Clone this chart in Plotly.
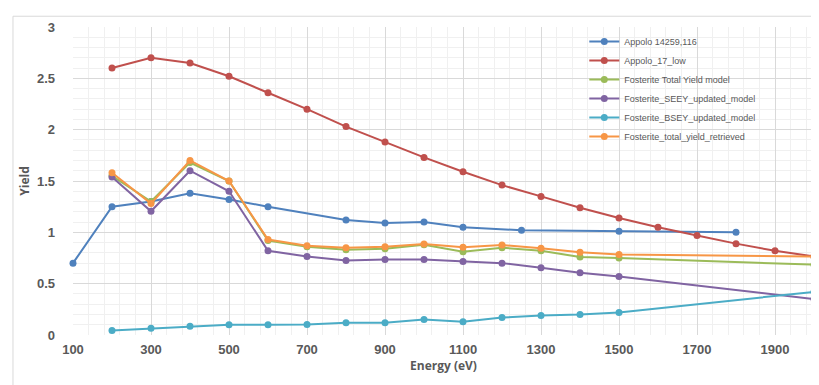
import plotly.graph_objects as go

# ---- data ----
apollo14_x = [100, 200, 300, 400, 500, 600, 800, 900, 1000, 1100, 1250, 1500, 1800]
apollo14_y = [0.70, 1.25, 1.30, 1.38, 1.32, 1.25, 1.12, 1.09, 1.10, 1.05, 1.02, 1.01, 1.00]

apollo17_x = [200, 300, 400, 500, 600, 700, 800, 900, 1000, 1100, 1200, 1300, 1400, 1500, 1600, 1700, 1800, 1900, 2000]
apollo17_y = [2.60, 2.70, 2.65, 2.52, 2.36, 2.20, 2.03, 1.88, 1.73, 1.59, 1.46, 1.35, 1.24, 1.14, 1.05, 0.97, 0.89, 0.82, 0.765]

model_x = [200, 300, 400, 500, 600, 700, 800, 900, 1000, 1100, 1200, 1300, 1400, 1500, 2000]
total_model_y = [1.55, 1.30, 1.68, 1.50, 0.92, 0.86, 0.83, 0.84, 0.88, 0.81, 0.85, 0.82, 0.76, 0.75, 0.685]
seey_y = [1.54, 1.205, 1.60, 1.40, 0.82, 0.765, 0.726, 0.736, 0.736, 0.717, 0.70, 0.656, 0.607, 0.569, 0.35]
bsey_y = [0.045, 0.065, 0.085, 0.10, 0.10, 0.103, 0.12, 0.12, 0.15, 0.13, 0.17, 0.19, 0.20, 0.22, 0.42]
retrieved_y = [1.58, 1.28, 1.70, 1.50, 0.93, 0.87, 0.85, 0.86, 0.887, 0.855, 0.877, 0.845, 0.805, 0.785, 0.765]

names = ["Appolo 14259,116", "Appolo_17_low", "Fosterite Total Yield model",
         "Fosterite_SEEY_updated_model", "Fosterite_BSEY_updated_model",
         "Fosterite_total_yield_retrieved"]
colors = ["#4F81BD", "#C0504D", "#9BBB59", "#8064A2", "#4BACC6", "#F79646"]

series = [
    (apollo14_x, apollo14_y),
    (apollo17_x, apollo17_y),
    (model_x, total_model_y),
    (model_x, seey_y),
    (model_x, bsey_y),
    (model_x, retrieved_y),
]

fig = go.Figure()
for (xs, ys), name, c in zip(series, names, colors):
    fig.add_trace(go.Scatter(
        x=xs, y=ys, name=name, mode="lines+markers",
        line=dict(color=c, width=2),
        marker=dict(color=c, size=7),
        cliponaxis=False,
    ))

grid_major = "#D9D9D9"
grid_minor = "#F0F0F0"
font_c = "#595959"
tick_font = dict(family="Liberation Sans Narrow, Liberation Sans, sans-serif",
                 size=13, color=font_c, weight="bold")

fig.update_layout(
    width=819, height=385,
    margin=dict(l=65, r=13, t=17, b=58),
    paper_bgcolor="white", plot_bgcolor="white",
    font=dict(family="Open Sans, Liberation Sans, sans-serif", color=font_c, size=12),
    showlegend=True,
    legend=dict(
        x=0.69, y=1.0, xanchor="left", yanchor="top",
        font=dict(family="Liberation Sans, sans-serif", size=9, color=font_c),
        bgcolor="rgba(255,255,255,0)",
        tracegroupgap=0, itemwidth=30,
    ),
    xaxis=dict(
        range=[100, 2000], tick0=100, dtick=200,
        showgrid=True, gridcolor=grid_major, gridwidth=1,
        minor=dict(dtick=40, tick0=100, showgrid=True, gridcolor=grid_minor, gridwidth=1),
        zeroline=False, showline=False, ticks="",
        ticklabelstandoff=5,
        tickfont=tick_font,
        title=dict(text="<b>Energy (eV)</b>", font=dict(size=12, color=font_c), standoff=2),
    ),
    yaxis=dict(
        range=[0, 3], dtick=0.5,
        showgrid=True, gridcolor=grid_major, gridwidth=1,
        minor=dict(dtick=0.1, showgrid=True, gridcolor=grid_minor, gridwidth=1),
        zeroline=False, showline=False, ticks="",
        ticklabelstandoff=17,
        tickfont=tick_font,
        title=dict(text="<b>Yield</b>", font=dict(size=12, color=font_c), standoff=4),
    ),
)

fig.add_shape(type="rect", xref="paper", yref="paper",
              x0=-0.081, x1=1.2, y0=-0.5, y1=1.035,
              line=dict(color="#D9D9D9", width=1), fillcolor="rgba(0,0,0,0)", layer="below")

fig.write_html("out.html")
